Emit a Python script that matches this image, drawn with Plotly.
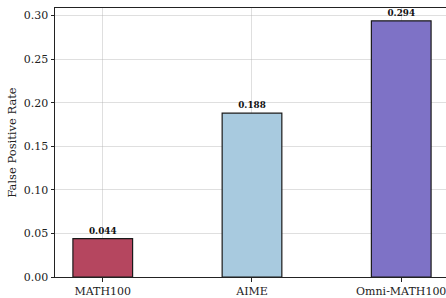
import plotly.graph_objects as go

categories = ["MATH100", "AIME", "Omni-MATH100"]
values = [0.044, 0.188, 0.294]
labels = ["0.044", "0.188", "0.294"]
colors = ["#B5465F", "#A8CADF", "#7E72C6"]
y_ticks = [0.0, 0.05, 0.10, 0.15, 0.20, 0.25, 0.30]
y_tick_text = ["0.00", "0.05", "0.10", "0.15", "0.20", "0.25", "0.30"]

font = "DejaVu Serif"

fig = go.Figure(go.Bar(
    x=list(range(len(categories))), y=values, width=0.4,
    marker=dict(color=colors, line=dict(color="#1a1a1a", width=1.2)),
    text=[f"<b>{t}</b>" for t in labels], textposition="outside",
    textfont=dict(family=font, size=8.8, color="#111"), cliponaxis=False,
    hoverinfo="skip",
))

fig.update_layout(
    width=446, height=298,
    margin=dict(l=55, r=0, t=8, b=21, autoexpand=False),
    plot_bgcolor="white", paper_bgcolor="white",
    font=dict(family=font, size=11, color="#222"),
    showlegend=False, bargap=0, hovermode=False,
)
fig.update_xaxes(
    tickmode="array", tickvals=list(range(len(categories))), ticktext=categories,
    range=[-0.32, 2.30], showline=True, linecolor="#222", linewidth=1,
    mirror=True, ticks="outside", ticklen=3.5, tickcolor="#222",
    showgrid=True, gridcolor="rgba(176,176,176,0.5)", gridwidth=0.8,
    layer="above traces", zeroline=False, tickfont=dict(size=11),
    automargin=False, ticklabeloverflow="allow",
)
fig.update_yaxes(
    tickmode="array", tickvals=y_ticks, ticktext=y_tick_text,
    range=[0, 0.3087], showline=True, linecolor="#222", linewidth=1,
    ticks="outside", ticklen=3.5, tickcolor="#222",
    showgrid=True, gridcolor="rgba(176,176,176,0.5)", gridwidth=0.8,
    layer="above traces", zeroline=False, tickfont=dict(size=11),
    title=dict(text="False Positive Rate", font=dict(size=11.5), standoff=4),
    automargin=False, ticklabeloverflow="allow",
)

fig.write_html(
    "out.html",
    config={"displayModeBar": False, "staticPlot": True},
    post_script="document.body.style.margin='0';document.body.style.overflow='hidden';",
)
